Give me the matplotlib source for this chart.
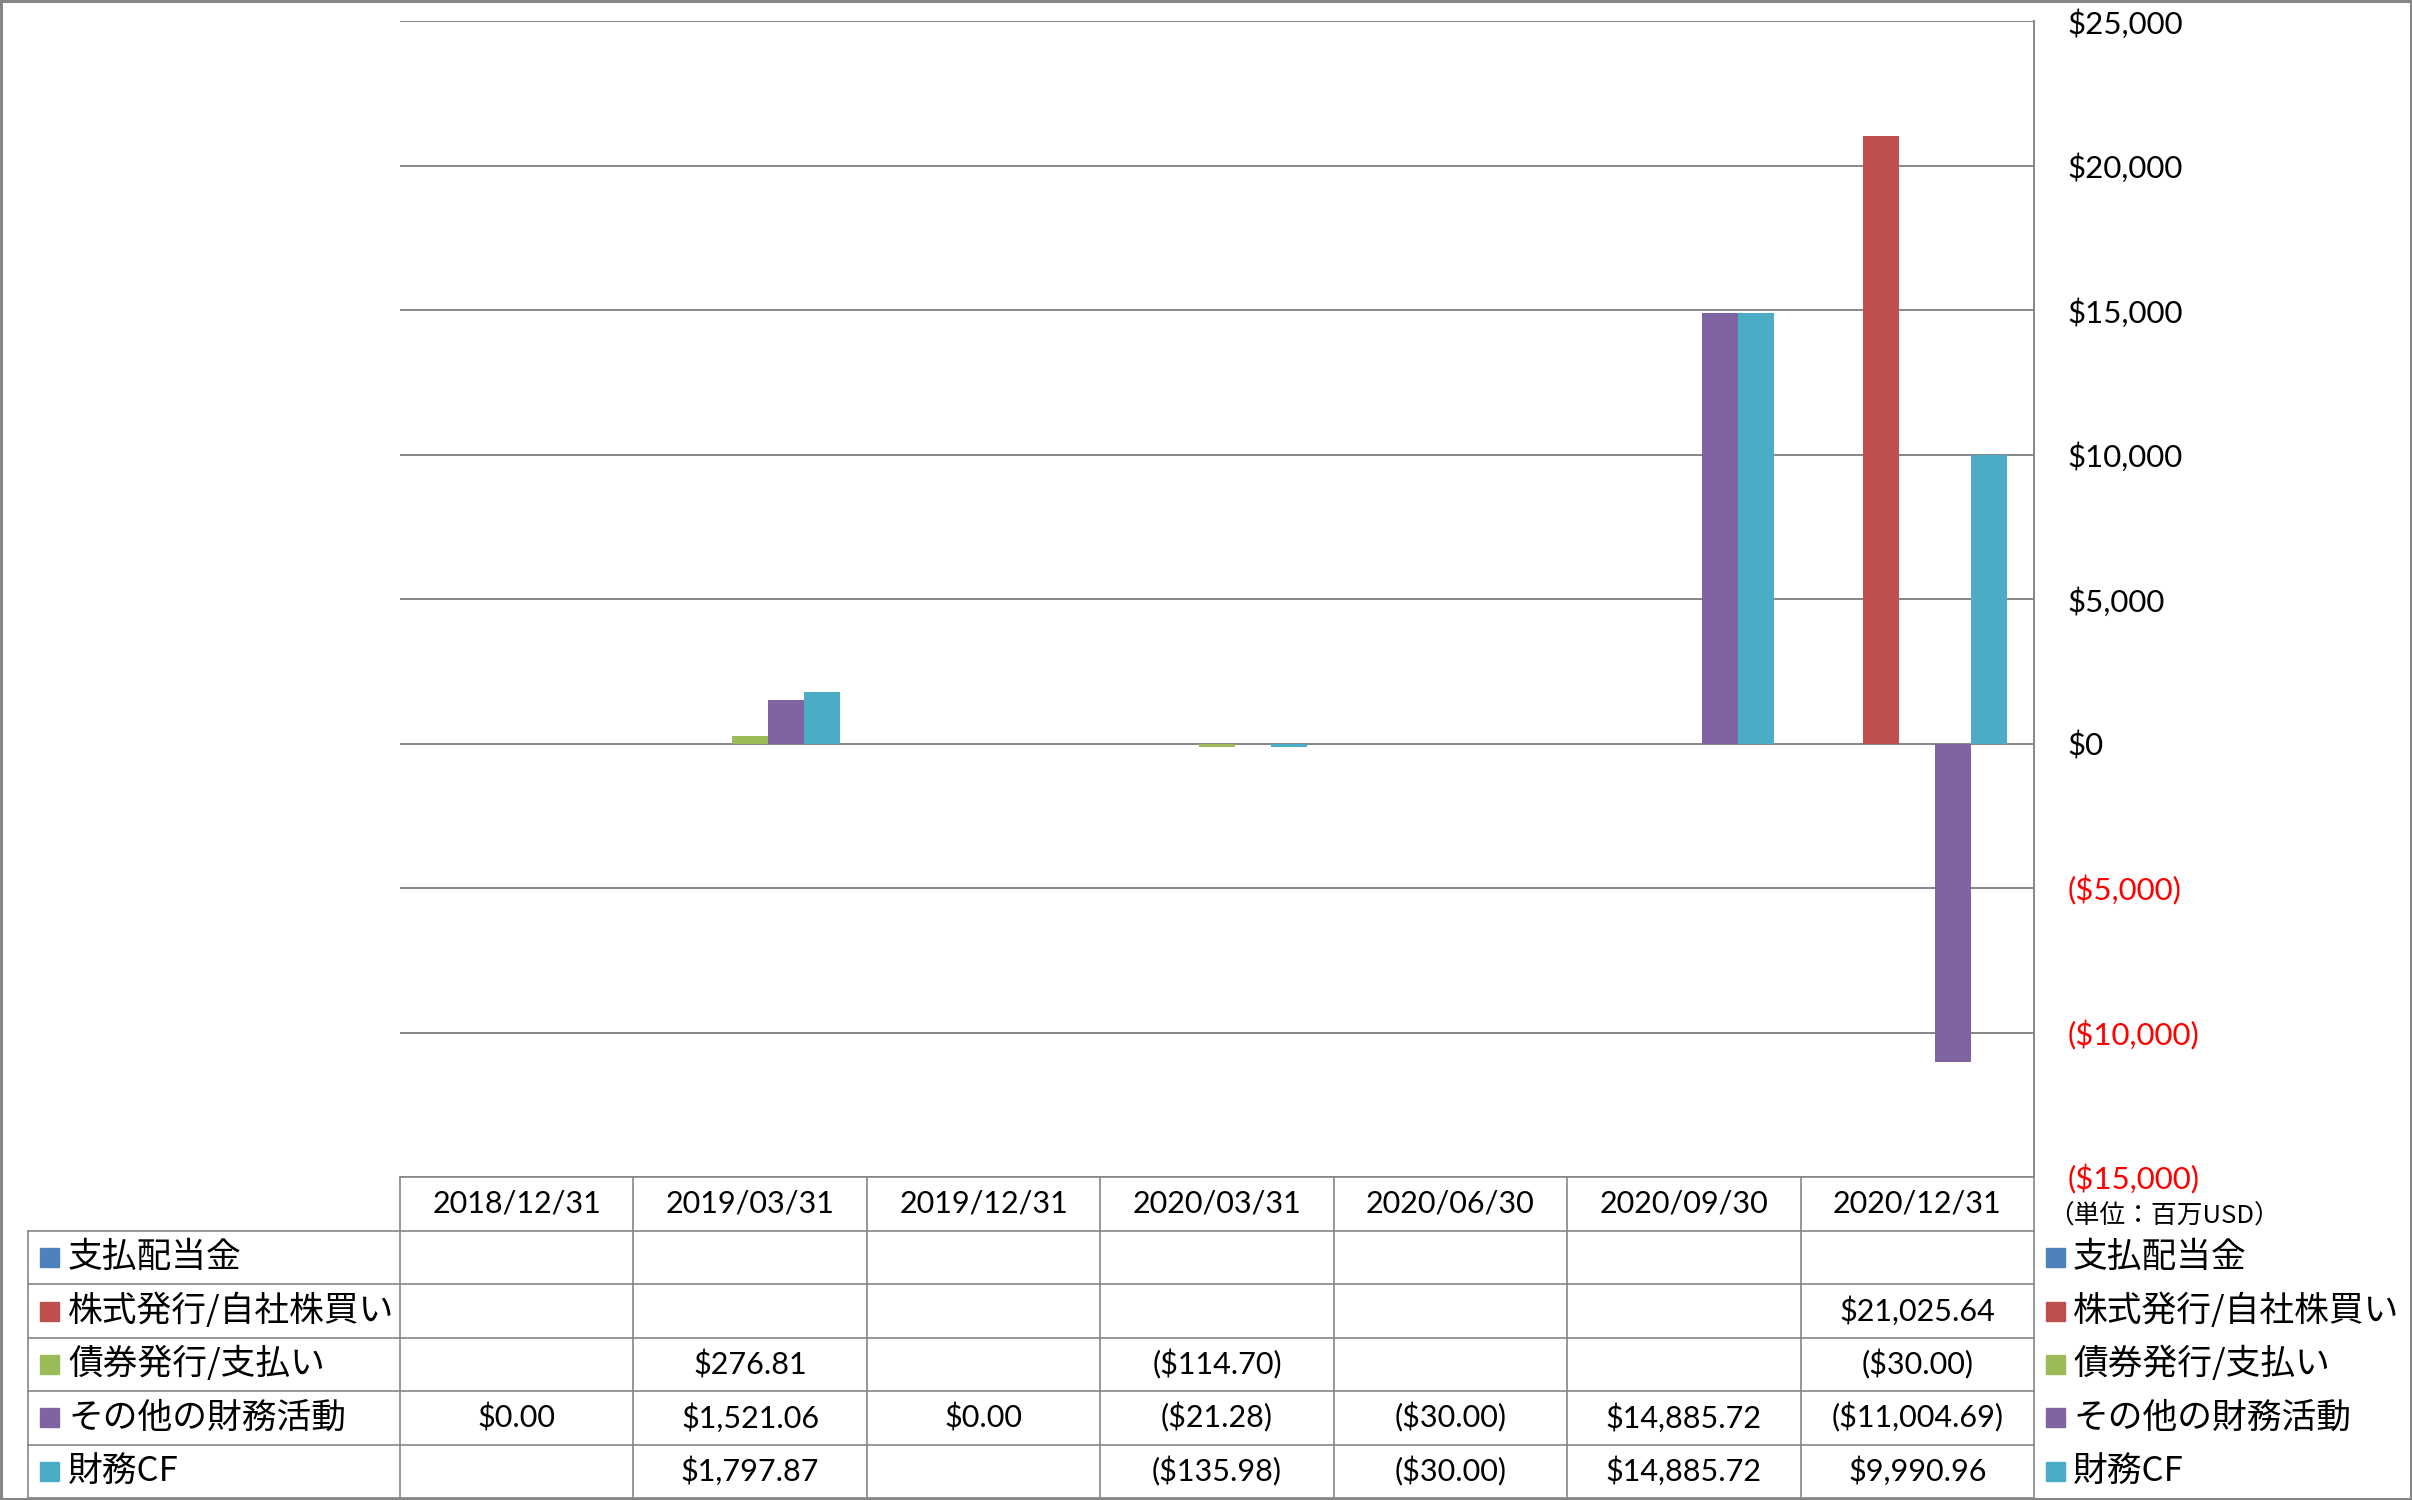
import matplotlib
matplotlib.use('Agg')
import matplotlib.pyplot as plt
from matplotlib.lines import Line2D
from matplotlib.patches import Rectangle
from matplotlib.transforms import blended_transform_factory

dates = ['2018/12/31', '2019/03/31', '2019/12/31', '2020/03/31', '2020/06/30', '2020/09/30', '2020/12/31']
series_names = ['支払配当金', '株式発行/自社株買い', '債券発行/支払い', 'その他の財務活動', '財務CF']
series_colors = ['#4F81BD', '#C0504D', '#9BBB59', '#8064A2', '#4BACC6']

dividends = [None, None, None, None, None, None, None]
stock_issue = [None, None, None, None, None, None, 21025.64]
bond_issue = [None, 276.81, None, -114.70, None, None, -30.00]
other_fin = [0.00, 1521.06, 0.00, -21.28, -30.00, 14885.72, -11004.69]
fin_cf = [None, 1797.87, None, -135.98, -30.00, 14885.72, 9990.96]
series_values = [dividends, stock_issue, bond_issue, other_fin, fin_cf]

y_ticks = [-15000, -10000, -5000, 0, 5000, 10000, 15000, 20000, 25000]
unit_label = '（単位：百万USD）'

JP = ['Noto Sans CJK JP', 'DejaVu Sans']
NUM = ['Lato', 'Noto Sans CJK JP', 'DejaVu Sans']
GRID = '#868686'
W, H = 2412, 1500


def fx(px):
    return px / W


def fy(py):
    return 1 - py / H


def money(v, dec=2):
    s = f'${abs(v):,.{dec}f}'
    return f'({s})' if v < 0 else s


fig = plt.figure(figsize=(W / 100, H / 100), dpi=100)
ax = fig.add_axes([fx(400), fy(1177), fx(2034) - fx(400), fy(21) - fy(1177)])

# bars, Excel style clustered columns (gap width 150%)
n = len(series_names)
bw = 1 / (n + 1.5)
for k, (vals, col) in enumerate(zip(series_values, series_colors)):
    xs = [i + (k - (n - 1) / 2) * bw for i, v in enumerate(vals) if v is not None]
    hs = [v for v in vals if v is not None]
    ax.bar(xs, hs, width=bw, color=col, zorder=3, linewidth=0)

ax.set_xlim(-0.5, len(dates) - 0.5)
ax.set_ylim(y_ticks[0], y_ticks[-1])
ax.yaxis.tick_right()
ax.set_yticks(y_ticks, labels=[money(t, 0) if t != 0 else '$0' for t in y_ticks])
for t, lab in zip(y_ticks, ax.get_yticklabels()):
    lab.set_color('red' if t < 0 else 'black')
    lab.set_family(NUM)
    lab.set_fontsize(22.5)
ax.tick_params(axis='y', length=0, pad=24)
ax.set_xticks([])
ax.grid(axis='y', color=GRID, lw=1.4, zorder=0)
for s in ['top', 'left', 'bottom']:
    ax.spines[s].set_visible(False)
ax.spines['right'].set_color(GRID)
ax.spines['right'].set_linewidth(1.4)

# data table below the plot
trans = blended_transform_factory(ax.transData, fig.transFigure)
row_edges = [1177, 1231, 1284.4, 1337.8, 1391.2, 1444.6, 1498]
tlw = 1.2
left_px = 28
right_fx = fx(2034)

fig.add_artist(Line2D([-0.5, len(dates) - 0.5], [fy(row_edges[0])] * 2, transform=trans, color=GRID, lw=tlw))
for e in row_edges[1:]:
    fig.add_artist(Line2D([fx(left_px), right_fx], [fy(e)] * 2, color=GRID, lw=tlw))
for i in range(len(dates) + 1):
    fig.add_artist(Line2D([i - 0.5, i - 0.5], [fy(row_edges[0]), fy(row_edges[-1])], transform=trans, color=GRID, lw=tlw))
fig.add_artist(Line2D([fx(left_px)] * 2, [fy(row_edges[1]), fy(row_edges[-1])], color=GRID, lw=tlw))

for i, d in enumerate(dates):
    fig.text(i, fy((row_edges[0] + row_edges[1]) / 2), d, transform=trans, ha='center', va='center',
             fontsize=22, family=NUM)

for r, (name, col, vals) in enumerate(zip(series_names, series_colors, series_values)):
    yc = fy((row_edges[r + 1] + row_edges[r + 2]) / 2)
    # row label with colour key
    fig.add_artist(Rectangle((fx(40), yc - 9.5 / H), 19 / W, 19 / H, color=col, transform=fig.transFigure))
    fig.text(fx(68), yc, name, ha='left', va='center', fontsize=25, family=JP)
    for i, v in enumerate(vals):
        if v is not None:
            fig.text(i, yc, money(v), transform=trans, ha='center', va='center', fontsize=22, family=NUM)
    # legend on the right
    fig.add_artist(Rectangle((fx(2046), yc - 9.5 / H), 19 / W, 19 / H, color=col, transform=fig.transFigure))
    fig.text(fx(2073), yc, name, ha='left', va='center', fontsize=25, family=JP)

fig.text(fx(2048), fy(1217), unit_label, ha='left', va='center', fontsize=18.5, family=JP)

# chart border
fig.add_artist(Rectangle((0.0005, 0.0008), 0.999, 0.9985, fill=False, edgecolor=GRID, lw=2.2,
                         transform=fig.transFigure))

fig.savefig('out.png', dpi=100, facecolor='white')
plt.close(fig)
